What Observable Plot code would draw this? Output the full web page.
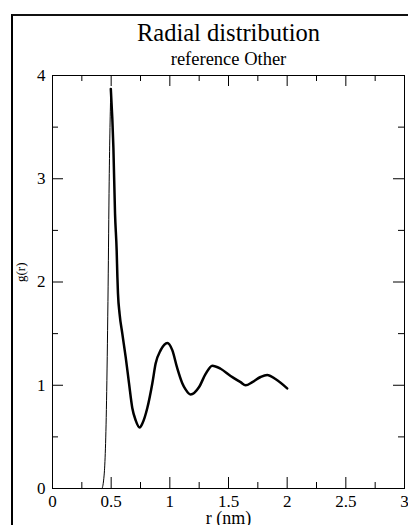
<!DOCTYPE html>
<html>
<head>
<meta charset="utf-8">
<script src="https://cdn.jsdelivr.net/npm/d3@7"></script>
<script src="https://cdn.jsdelivr.net/npm/@observablehq/plot@0.6"></script>
<style>
  html, body { margin: 0; padding: 0; background: #fff; overflow: hidden; }
  #wrap { position: relative; width: 408px; height: 525px; }
  #outer { position: absolute; left: 11px; top: 14px; width: 420px; height: 540px;
           border-left: 2px solid #000; border-top: 2px solid #111; pointer-events: none; }
  svg { display: block; }
  svg text { font-family: "Liberation Serif", "Times New Roman", serif !important; }
</style>
</head>
<body>
<div id="wrap"><div id="outer"></div></div>
<script>
// Texts
const title = "Radial distribution";
const subtitle = "reference Other";
const xLabel = "r (nm)";
const yLabel = "g(r)";

// Data: r (nm) and g(r)
const rValues = [0, 0.42, 0.44, 0.462, 0.474, 0.483, 0.497, 0.519, 0.533, 0.547, 0.553, 0.558,
  0.572, 0.595, 0.624, 0.652, 0.68, 0.709, 0.743, 0.766, 0.808, 0.851, 0.879, 0.922, 0.979,
  1.021, 1.062, 1.106, 1.134, 1.177, 1.248, 1.305, 1.362, 1.433, 1.518, 1.603, 1.646, 1.703,
  1.773, 1.83, 1.90, 2.00];
const gValues = [0, 0, 0.13, 0.94, 1.96, 2.97, 3.87, 3.30, 2.66, 2.30, 2.05, 1.89,
  1.69, 1.50, 1.27, 1.02, 0.78, 0.66, 0.59, 0.63, 0.78, 1.02, 1.21, 1.34, 1.41,
  1.34, 1.17, 1.02, 0.96, 0.91, 0.98, 1.11, 1.19, 1.16, 1.09, 1.03, 1.00, 1.03,
  1.08, 1.10, 1.06, 0.97];
const riseEnd = 6; // index of the first peak (rising edge drawn thin)

// Ticks
const xMajor = [0, 0.5, 1, 1.5, 2, 2.5, 3];
const xMinor = [0.25, 0.75, 1.25, 1.75, 2.25, 2.75];
const yMajor = [0, 1, 2, 3, 4];
const yMinor = [0.5, 1.5, 2.5, 3.5];

const pts = rValues.map((r, i) => ({r, g: gValues[i], i}));
const rise = pts.filter(d => d.i <= riseEnd);
const main = pts.filter(d => d.i >= riseEnd);

const W = 408, H = 525;
const mt = 75, mr = 4, mb = 37, ml = 52;
const iw = W - ml - mr, ih = H - mt - mb;
const majorLen = 11, minorLen = 6;
const font = "Liberation Serif";

const chart = Plot.plot({
  width: W, height: H,
  marginTop: mt, marginRight: mr, marginBottom: mb, marginLeft: ml,
  style: {fontFamily: font, background: "transparent", color: "#000"},
  x: {domain: [0, 3]},
  y: {domain: [0, 4]},
  marks: [
    Plot.frame({stroke: "#000", strokeWidth: 1}),
    // inward ticks: bottom & top
    Plot.tickX(xMajor, {x: d => d, insetTop: ih - majorLen, stroke: "#000"}),
    Plot.tickX(xMinor, {x: d => d, insetTop: ih - minorLen, stroke: "#000"}),
    Plot.tickX(xMajor, {x: d => d, insetBottom: ih - majorLen, stroke: "#000"}),
    Plot.tickX(xMinor, {x: d => d, insetBottom: ih - minorLen, stroke: "#000"}),
    // inward ticks: left & right
    Plot.tickY(yMajor, {y: d => d, insetRight: iw - majorLen, stroke: "#000"}),
    Plot.tickY(yMinor, {y: d => d, insetRight: iw - minorLen, stroke: "#000"}),
    Plot.tickY(yMajor, {y: d => d, insetLeft: iw - majorLen, stroke: "#000"}),
    Plot.tickY(yMinor, {y: d => d, insetLeft: iw - minorLen, stroke: "#000"}),
    Plot.axisX({ticks: xMajor, tickSize: 0, tickPadding: 6, fontSize: 17, label: null,
                fontFamily: font, tickFormat: d => String(d)}),
    Plot.axisY({ticks: yMajor, tickSize: 0, tickPadding: 7, fontSize: 17, label: null,
                fontFamily: font, tickFormat: d => String(d)}),
    // curve
    Plot.line(rise, {x: "r", y: "g", stroke: "#000", strokeWidth: 1, curve: "monotone-x"}),
    Plot.line(main, {x: "r", y: "g", stroke: "#000", strokeWidth: 2.5, curve: "monotone-x"}),
    // labels
    Plot.text([title], {frameAnchor: "top", dy: -51.5, fontSize: 24.5, fontFamily: font, text: d => d}),
    Plot.text([subtitle], {frameAnchor: "top", dy: -24, fontSize: 18.5, fontFamily: font, text: d => d}),
    Plot.text([xLabel], {frameAnchor: "bottom", lineAnchor: "top", dy: 23, fontSize: 18, fontFamily: font, text: d => d}),
    Plot.text([yLabel], {frameAnchor: "left", dx: -32, rotate: -90, fontSize: 13, fontFamily: font, text: d => d})
  ]
});
document.getElementById("wrap").prepend(chart);
</script>
</body>
</html>
